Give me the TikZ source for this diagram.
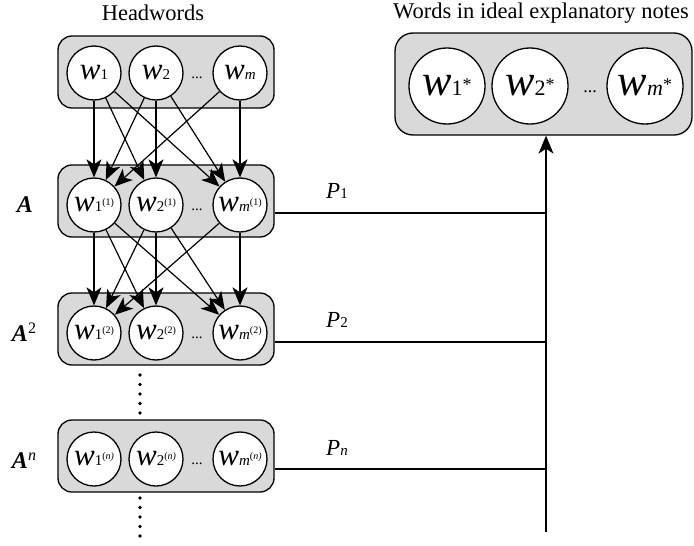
\documentclass[tikz,border=0pt]{standalone}
\usepackage{fontspec}
\setmainfont{Liberation Serif}
\usetikzlibrary{arrows.meta}
\newcommand{\myfs}[1]{\fontsize{#1}{#1}\selectfont}
\newcommand{\wlab}[2]{{\myfs{31}\itshape w}{\myfs{15}#1}{\myfs{10}\raisebox{6pt}{#2}}}
\newcommand{\wstar}[1]{{\myfs{44}\itshape w}{\myfs{22}#1}{\myfs{18}\raisebox{5pt}{*}}}
\tikzset{
  rowbox/.style={draw=black, line width=1.3pt, fill=black!15, rounded corners=14pt, inner sep=0pt},
  wnode/.style={circle, draw=black, line width=1.3pt, fill=white, minimum size=54pt, inner sep=0pt},
  bignode/.style={circle, draw=black, line width=1.3pt, fill=white, minimum size=76pt, inner sep=0pt},
  arrowline/.style={line width=1.2pt, -{Stealth[length=18pt,width=15pt,inset=5pt]}},
  conn/.style={line width=1.2pt},
  title/.style={font=\myfs{22.5}, inner sep=0pt},
  alab/.style={font=\myfs{24}\bfseries\itshape, inner sep=0pt},
  plab/.style={font=\myfs{23}\itshape, inner sep=0pt},
  dotdot/.style={font=\myfs{15}, inner sep=0pt, anchor=base},
  vdot/.style={circle, fill=black, minimum size=3.8pt, inner sep=0pt}
}
\begin{document}
\begin{tikzpicture}[x=1pt,y=-1pt]
\useasboundingbox (0,0) rectangle (694,546);
% titles
\node[title] (t1) at (153,13) {Headwords};
\node[title] (t2) at (541,13) {Words in ideal explanatory notes};
% boxes
\node[rowbox, minimum width=216pt, minimum height=72pt] (b0) at (166,72) {};
\node[rowbox, minimum width=216pt, minimum height=72pt] (b1) at (166,201) {};
\node[rowbox, minimum width=216pt, minimum height=72pt] (b2) at (166,329) {};
\node[rowbox, minimum width=216pt, minimum height=72pt] (bn) at (166,456) {};
\node[rowbox, minimum width=297pt, minimum height=102pt, rounded corners=18pt] (br) at (543.5,84) {};
% top row
\node[wnode] (t01) at (94,73) {\wlab{1}{}};
\node[wnode] (t02) at (156,73) {\wlab{2}{}};
\node[wnode] (t0m) at (240,73) {\wlab{\itshape m}{}};
\node[dotdot] (d0) at (197,78) {...};
% row A
\node[wnode] (a1) at (94,205) {\wlab{1}{(1)}};
\node[wnode] (a2) at (156,205) {\wlab{2}{(1)}};
\node[wnode] (am) at (240,205) {\wlab{\itshape m}{(1)}};
\node[dotdot] (d1) at (197,210) {...};
% row A2
\node[wnode] (c1) at (94,333) {\wlab{1}{(2)}};
\node[wnode] (c2) at (156,333) {\wlab{2}{(2)}};
\node[wnode] (cm) at (240,333) {\wlab{\itshape m}{(2)}};
\node[dotdot] (d2) at (197,338) {...};
% row An
\node[wnode] (n1) at (94,459) {\wlab{1}{(\itshape n)}};
\node[wnode] (n2) at (156,459) {\wlab{2}{(\itshape n)}};
\node[wnode] (nm) at (240,459) {\wlab{\itshape m}{(\itshape n)}};
\node[dotdot] (dn) at (197,464) {...};
% right row
\node[bignode] (r1) at (447,86) {\wstar{1}};
\node[bignode] (r2) at (530,86) {\wstar{2}};
\node[bignode] (rm) at (645,86) {\wstar{\itshape m}};
\node[dotdot, font=\myfs{18}] (dr) at (590,92) {...};
% side labels
\node[alab] (la) at (25,205) {A};
\node[alab, anchor=base] (la2) at (24,341) {A\textmd{\upshape\myfs{16}\raisebox{8pt}{2}}};
\node[alab, anchor=base] (lan) at (24,468) {A\textmd{\myfs{16}\raisebox{8pt}{n}}};
% arrows top -> A
\draw[arrowline] (t01) -- (a1);
\draw[arrowline] (t01) -- (a2);
\draw[arrowline] (t01) -- (am);
\draw[arrowline] (t02) -- (a1);
\draw[arrowline] (t02) -- (a2);
\draw[arrowline] (t02) -- (am);
\draw[arrowline] (t0m) -- (a1);
\draw[arrowline] (t0m) -- (am);
% arrows A -> A2
\draw[arrowline] (a1) -- (c1);
\draw[arrowline] (a1) -- (c2);
\draw[arrowline] (a1) -- (cm);
\draw[arrowline] (a2) -- (c1);
\draw[arrowline] (a2) -- (c2);
\draw[arrowline] (a2) -- (cm);
\draw[arrowline] (am) -- (c1);
\draw[arrowline] (am) -- (cm);
% vertical dots
\foreach \y [count=\i] in {375,384.5,394,403.5,413} \node[vdot] (va\i) at (140,\y) {};
\foreach \y [count=\i] in {498,507.5,517,526.5,536} \node[vdot] (vb\i) at (140,\y) {};
% connectors to right
\coordinate (j1) at (546,213);
\coordinate (j2) at (546,342);
\coordinate (jn) at (546,469);
\coordinate (vbot) at (546,532);
\draw[conn] ([yshift=-12pt]b1.east) -- (j1);
\draw[conn] ([yshift=-13pt]b2.east) -- (j2);
\draw[conn] ([yshift=-13pt]bn.east) -- (jn);
\draw[arrowline] (vbot) -- (vbot |- br.south);
% P labels
\node[plab, anchor=base] (p1) at (337,198) {P\textup{\myfs{15}1}};
\node[plab, anchor=base] (p2) at (337,327) {P\textup{\myfs{15}2}};
\node[plab, anchor=base] (pn) at (337,455) {P\myfs{15}n};
\end{tikzpicture}
\end{document}
